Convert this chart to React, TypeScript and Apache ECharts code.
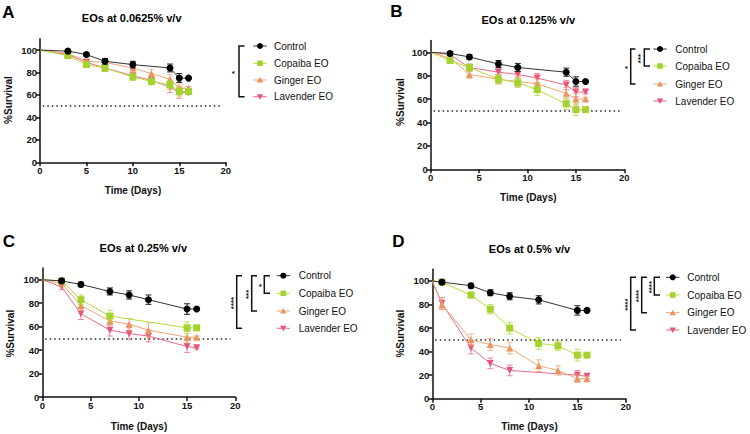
import React, { useEffect, useRef } from 'react';
import * as echarts from 'echarts';

// ---------------- data ----------------
const groupNames = ['Control', 'Copaiba EO', 'Ginger EO', 'Lavender EO'];
const panelTitles = ['EOs at 0.0625% v/v', 'EOs at 0.125% v/v', 'EOs at 0.25% v/v', 'EOs at 0.5% v/v'];
const panelLetters = ['A', 'B', 'C', 'D'];
const yTickValues = [0, 20, 40, 60, 80, 100];
const xTickValues = [0, 5, 10, 15, 20];
const survivalThreshold = 50;
const yAxisLabel = '%Survival';
const xAxisLabel = 'Time (Days)';

// Panel A (0.0625%)
const daysA_control = [0, 3, 5, 7, 10, 14, 15, 16];
const controlA = [100, 99, 96, 90, 87, 84, 75, 75];
const controlA_err = [0, 1.5, 1.5, 2.5, 3, 3.5, 4, 0];
const daysA_treat = [0, 3, 5, 7, 10, 12, 14, 15, 16];
const copaibaA = [100, 95, 87, 84, 76, 72, 69, 63, 63];
const copaibaA_err = [0, 1.5, 2.5, 3, 3, 3, 4, 4, 1.5];
const gingerA = [100, 97, 90, 89, 84, 79, 74, 66, 66];
const gingerA_err = [0, 1.5, 2.5, 3, 4, 4, 4, 3, 1.5];
const lavenderA = [100, 96, 89, 84, 77, 73, 67, 62, 62];
const lavenderA_err = [0, 1.5, 2.5, 3, 3, 3, 5, 5, 1.5];

// Panel B (0.125%)
const daysB_control = [0, 2, 4, 7, 9, 14, 15, 16];
const controlB = [100, 99, 96, 90, 87, 83, 75, 75];
const controlB_err = [0, 1.5, 2, 3, 3.5, 3.5, 4, 0.5];
const daysB_treat = [0, 2, 4, 7, 9, 11, 14, 15, 16];
const copaibaB = [100, 93, 87, 77, 74, 68, 56, 51, 51];
const copaibaB_err = [0, 2, 3, 4, 4, 5, 5, 5, 1.5];
const gingerB = [100, 95, 81, 77, 75, 73, 65, 60, 60];
const gingerB_err = [0, 2, 3, 4, 4, 4, 5, 5, 1.5];
const lavenderB = [100, 98, 87, 83, 81, 78, 72, 66, 66];
const lavenderB_err = [0, 1.5, 3, 3, 3, 4, 4, 4, 1.5];

// Panel C (0.25%)
const daysC_control = [0, 2, 4, 7, 9, 11, 15, 16];
const controlC = [100, 99, 96, 90, 87, 83, 75, 75];
const controlC_err = [0, 1.5, 2, 3, 3.5, 4, 4.5, 0.5];
const daysC_copaiba = [0, 2, 4, 7, 15, 16];
const copaibaC = [100, 99, 83, 69, 59, 59];
const copaibaC_err = [0, 1.5, 4, 5, 5, 1];
const daysC_treat = [0, 2, 4, 7, 9, 11, 15, 16];
const gingerC = [100, 97, 78, 65, 62, 57, 51, 51];
const gingerC_err = [0, 2, 4, 4, 5, 6, 5, 1];
const lavenderC = [100, 94, 71, 57, 54, 52, 43, 42];
const lavenderC_err = [0, 2.5, 5, 5, 5, 5, 5, 1];

// Panel D (0.5%)
const daysD_control = [0, 1, 4, 6, 8, 11, 15, 16];
const controlD = [100, 99, 96, 90, 87, 84, 75, 75];
const controlD_err = [0, 1.5, 2, 2.5, 3, 3.5, 4, 0.5];
const daysD_copaiba = [0, 1, 4, 6, 8, 11, 13, 15, 16];
const copaibaD = [100, 99, 88, 76, 60, 47, 45, 37, 37];
const copaibaD_err = [0, 1, 2.5, 4, 5, 5, 4, 5, 1];
const daysD_ginger = [0, 1, 4, 6, 8, 11, 13, 15, 16];
const gingerD = [100, 80, 50, 46, 43, 28, 24, 17, 17];
const gingerD_err = [0, 4, 5, 5, 5, 5, 4, 3, 2];
const daysD_lavender = [0, 1, 4, 6, 8, 15, 16];
const lavenderD = [100, 81, 43, 30, 24, 20, 19];
const lavenderD_err = [0, 5, 5, 4.5, 4.5, 4, 2];

const significanceA = [{ from: 0, to: 3, label: '*' }];
const significanceB = [
  { from: 0, to: 1, label: '***' },
  { from: 0, to: 2, label: '*' },
];
const significanceC = [
  { from: 0, to: 1, label: '*' },
  { from: 0, to: 2, label: '***' },
  { from: 0, to: 3, label: '****' },
];
const significanceD = [
  { from: 0, to: 1, label: '****' },
  { from: 0, to: 2, label: '****' },
  { from: 0, to: 3, label: '****' },
];

// ---------------- styling / layout ----------------
const FONT = '"Liberation Sans", Arial, Helvetica, sans-serif';
const groupColors = ['#000000', '#a5d22e', '#e9955f', '#e4577a'];
const lineColors = ['#333333', '#b5dc3c', '#f0a575', '#ec6a88'];
const errColors = ['#222222', 'rgba(170,212,50,0.75)', 'rgba(236,160,112,0.75)', 'rgba(230,90,125,0.7)'];
const groupSymbols = ['circle', 'rect', 'triangle', 'triangle'];
const groupRotate = [0, 0, 0, 180];
const groupZ = [10, 9, 8, 7];

const panels = [
  {
    grid: { left: 40, top: 38.8, width: 185.7, height: 123.5 },
    series: [
      [daysA_control, controlA, controlA_err],
      [daysA_treat, copaibaA, copaibaA_err],
      [daysA_treat, gingerA, gingerA_err],
      [daysA_treat, lavenderA, lavenderA_err],
    ],
    letter: { x: 8.5, y: 12.5 },
    title: { x: 131.7, y: 18 },
    yName: { x: 8.5, y: 100 },
    xName: { x: 133, y: 190 },
    legend: { rows: [46, 63.3, 80, 96.7], symX: 260, textX: 274 },
    brackets: [{ vx: 239, tx: 244.5, sx: 233.5 }],
    sig: significanceA,
  },
  {
    grid: { left: 430.7, top: 40.6, width: 193.6, height: 128.7 },
    series: [
      [daysB_control, controlB, controlB_err],
      [daysB_treat, copaibaB, copaibaB_err],
      [daysB_treat, gingerB, gingerB_err],
      [daysB_treat, lavenderB, lavenderB_err],
    ],
    letter: { x: 396.5, y: 11 },
    title: { x: 528.3, y: 20 },
    yName: { x: 400, y: 102 },
    xName: { x: 528.3, y: 197.3 },
    legend: { rows: [49, 66, 84, 101], symX: 660, textX: 675.3 },
    brackets: [
      { vx: 644.3, tx: 650, sx: 639.3 },
      { vx: 630.7, tx: 635.5, sx: 626 },
    ],
    sig: significanceB,
  },
  {
    grid: { left: 42.3, top: 268, width: 193, height: 129 },
    series: [
      [daysC_control, controlC, controlC_err],
      [daysC_copaiba, copaibaC, copaibaC_err],
      [daysC_treat, gingerC, gingerC_err],
      [daysC_treat, lavenderC, lavenderC_err],
    ],
    letter: { x: 9, y: 241.5 },
    title: { x: 143.3, y: 247.7 },
    yName: { x: 10, y: 333.7 },
    xName: { x: 139, y: 426 },
    legend: { rows: [275.7, 293.3, 311, 328.3], symX: 283.3, textX: 298.7 },
    brackets: [
      { vx: 264.3, tx: 270, sx: 260 },
      { vx: 251.7, tx: 257, sx: 247.3 },
      { vx: 236.7, tx: 242, sx: 232.7 },
    ],
    sig: significanceC,
  },
  {
    grid: { left: 432.3, top: 269.2, width: 193.4, height: 129.5 },
    series: [
      [daysD_control, controlD, controlD_err],
      [daysD_copaiba, copaibaD, copaibaD_err],
      [daysD_ginger, gingerD, gingerD_err],
      [daysD_lavender, lavenderD, lavenderD_err],
    ],
    letter: { x: 398.5, y: 241.5 },
    title: { x: 529.5, y: 248.7 },
    yName: { x: 400, y: 333.7 },
    xName: { x: 529.5, y: 426.3 },
    legend: { rows: [277.3, 295, 312.7, 330], symX: 672.7, textX: 687.3 },
    brackets: [
      { vx: 654.3, tx: 660, sx: 650.7 },
      { vx: 641.7, tx: 647, sx: 637.3 },
      { vx: 630.7, tx: 636, sx: 626 },
    ],
    sig: significanceD,
  },
];

function legendSymbol(g: number, cx: number, cy: number) {
  const color = groupColors[g];
  if (g === 0) return { type: 'circle', shape: { cx, cy, r: 3 }, style: { fill: color } };
  if (g === 1) return { type: 'rect', shape: { x: cx - 2.8, y: cy - 2.8, width: 5.6, height: 5.6 }, style: { fill: color } };
  if (g === 2)
    return { type: 'polygon', shape: { points: [[cx, cy - 3], [cx + 3.2, cy + 2.5], [cx - 3.2, cy + 2.5]] }, style: { fill: color } };
  return { type: 'polygon', shape: { points: [[cx, cy + 3], [cx + 3.2, cy - 2.5], [cx - 3.2, cy - 2.5]] }, style: { fill: color } };
}

function buildOption() {
  const grids: any[] = [];
  const xAxes: any[] = [];
  const yAxes: any[] = [];
  const series: any[] = [];
  const graphic: any[] = [];

  panels.forEach((p, pi) => {
    grids.push({ ...p.grid, containLabel: false });
    xAxes.push({
      type: 'value',
      gridIndex: pi,
      min: 0,
      max: 20,
      interval: 5,
      axisLine: { show: true, onZero: false, lineStyle: { color: '#111', width: 1.5 } },
      axisTick: { show: true, length: 4, lineStyle: { color: '#111', width: 1.5 }, customValues: xTickValues },
      axisLabel: { fontFamily: FONT, fontSize: 9.5, fontWeight: 'bold', color: '#111', margin: 3, customValues: xTickValues },
      splitLine: { show: false },
    });
    yAxes.push({
      type: 'value',
      gridIndex: pi,
      min: 0,
      max: 110,
      interval: 10,
      axisLine: { show: true, onZero: false, lineStyle: { color: '#111', width: 1.5 } },
      axisTick: { show: true, length: 4, lineStyle: { color: '#111', width: 1.5 }, customValues: yTickValues },
      axisLabel: { fontFamily: FONT, fontSize: 9.5, fontWeight: 'bold', color: '#111', margin: 3, customValues: yTickValues },
      splitLine: { show: false },
    });

    p.series.forEach(([days, vals, errs], g) => {
      const errData = days
        .map((d, i) => [d, vals[i] - errs[i], vals[i] + errs[i]])
        .filter((_, i) => days[i] !== 0);
      series.push({
        type: 'custom',
        name: groupNames[g] + ' SEM',
        xAxisIndex: pi,
        yAxisIndex: pi,
        z: groupZ[g] - 0.5,
        clip: false,
        silent: true,
        encode: { x: 0, y: [1, 2] },
        data: errData,
        renderItem: (params: any, api: any) => {
          const x = api.value(0);
          const lo = api.coord([x, api.value(1)]);
          const hi = api.coord([x, api.value(2)]);
          const hw = 3;
          const st = { stroke: errColors[g], lineWidth: 1 };
          return {
            type: 'group',
            children: [
              { type: 'line', shape: { x1: hi[0], y1: hi[1], x2: lo[0], y2: lo[1] }, style: st },
              { type: 'line', shape: { x1: hi[0] - hw, y1: hi[1], x2: hi[0] + hw, y2: hi[1] }, style: st },
              { type: 'line', shape: { x1: lo[0] - hw, y1: lo[1], x2: lo[0] + hw, y2: lo[1] }, style: st },
            ],
          };
        },
      });
      const s: any = {
        type: 'line',
        name: groupNames[g],
        xAxisIndex: pi,
        yAxisIndex: pi,
        z: groupZ[g],
        symbol: groupSymbols[g],
        symbolSize: 7,
        symbolRotate: groupRotate[g],
        itemStyle: { color: groupColors[g] },
        lineStyle: { color: lineColors[g], width: 1 },
        data: days.map((d, i) => (d === 0 ? { value: [d, vals[i]], symbol: 'none' } : [d, vals[i]])),
      };
      if (g === 0) {
        s.markLine = {
          silent: true,
          symbol: ['none', 'none'],
          label: { show: false },
          lineStyle: { type: [1.5, 3], color: '#222', width: 1.5 },
          data: [[{ coord: [0.3, survivalThreshold] }, { coord: [19.5, survivalThreshold] }]],
        };
      }
      series.push(s);
    });

    // texts
    graphic.push({
      type: 'text',
      x: p.letter.x,
      y: p.letter.y,
      style: { text: panelLetters[pi], font: `bold 17px ${FONT}`, fill: '#000', textAlign: 'center', textVerticalAlign: 'middle', align: 'center', verticalAlign: 'middle' },
    });
    graphic.push({
      type: 'text',
      x: p.title.x,
      y: p.title.y,
      style: { text: panelTitles[pi], font: `bold 11px ${FONT}`, fill: '#000', textAlign: 'center', textVerticalAlign: 'middle', align: 'center', verticalAlign: 'middle' },
    });
    graphic.push({
      type: 'text',
      x: p.yName.x,
      y: p.yName.y,
      rotation: Math.PI / 2,
      style: { text: yAxisLabel, font: `bold 10px ${FONT}`, fill: '#111', textAlign: 'center', textVerticalAlign: 'middle', align: 'center', verticalAlign: 'middle' },
    });
    graphic.push({
      type: 'text',
      x: p.xName.x,
      y: p.xName.y,
      style: { text: xAxisLabel, font: `bold 10px ${FONT}`, fill: '#111', textAlign: 'center', textVerticalAlign: 'middle', align: 'center', verticalAlign: 'middle' },
    });

    // legend
    p.legend.rows.forEach((ry, g) => {
      graphic.push({
        type: 'line',
        shape: { x1: p.legend.symX - 6.7, y1: ry, x2: p.legend.symX + 6.7, y2: ry },
        style: { stroke: lineColors[g], lineWidth: 1 },
      });
      graphic.push(legendSymbol(g, p.legend.symX, ry));
      graphic.push({
        type: 'text',
        x: p.legend.textX,
        y: ry,
        style: { text: groupNames[g], font: `10px ${FONT}`, fill: '#111', textAlign: 'left', textVerticalAlign: 'middle', align: 'left', verticalAlign: 'middle' },
      });
    });

    // significance brackets
    p.sig.forEach((sg, bi) => {
      const b = p.brackets[bi];
      const y1 = p.legend.rows[sg.from];
      const y2 = p.legend.rows[sg.to];
      graphic.push({
        type: 'polyline',
        shape: { points: [[b.tx, y1], [b.vx, y1], [b.vx, y2], [b.tx, y2]] },
        style: { stroke: '#111', lineWidth: 1.5, fill: null },
      });
      graphic.push({
        type: 'text',
        x: b.sx + 1,
        y: (y1 + y2) / 2 + 1,
        rotation: Math.PI / 2,
        style: { text: sg.label, font: `bold 8px ${FONT}`, fill: '#111', textAlign: 'center', textVerticalAlign: 'middle', align: 'center', verticalAlign: 'middle' },
      });
    });
  });

  return {
    animation: false,
    backgroundColor: '#ffffff',
    textStyle: { fontFamily: FONT },
    grid: grids,
    xAxis: xAxes,
    yAxis: yAxes,
    series,
    graphic,
  };
}

export default function App() {
  const ref = useRef<HTMLDivElement>(null);
  useEffect(() => {
    if (!ref.current) return;
    const chart = echarts.init(ref.current, null, { renderer: 'svg' });
    chart.setOption(buildOption() as any);
    return () => chart.dispose();
  }, []);
  return <div ref={ref} style={{ position: 'absolute', left: 0, top: 0, width: 750, height: 434 }} />;
}
